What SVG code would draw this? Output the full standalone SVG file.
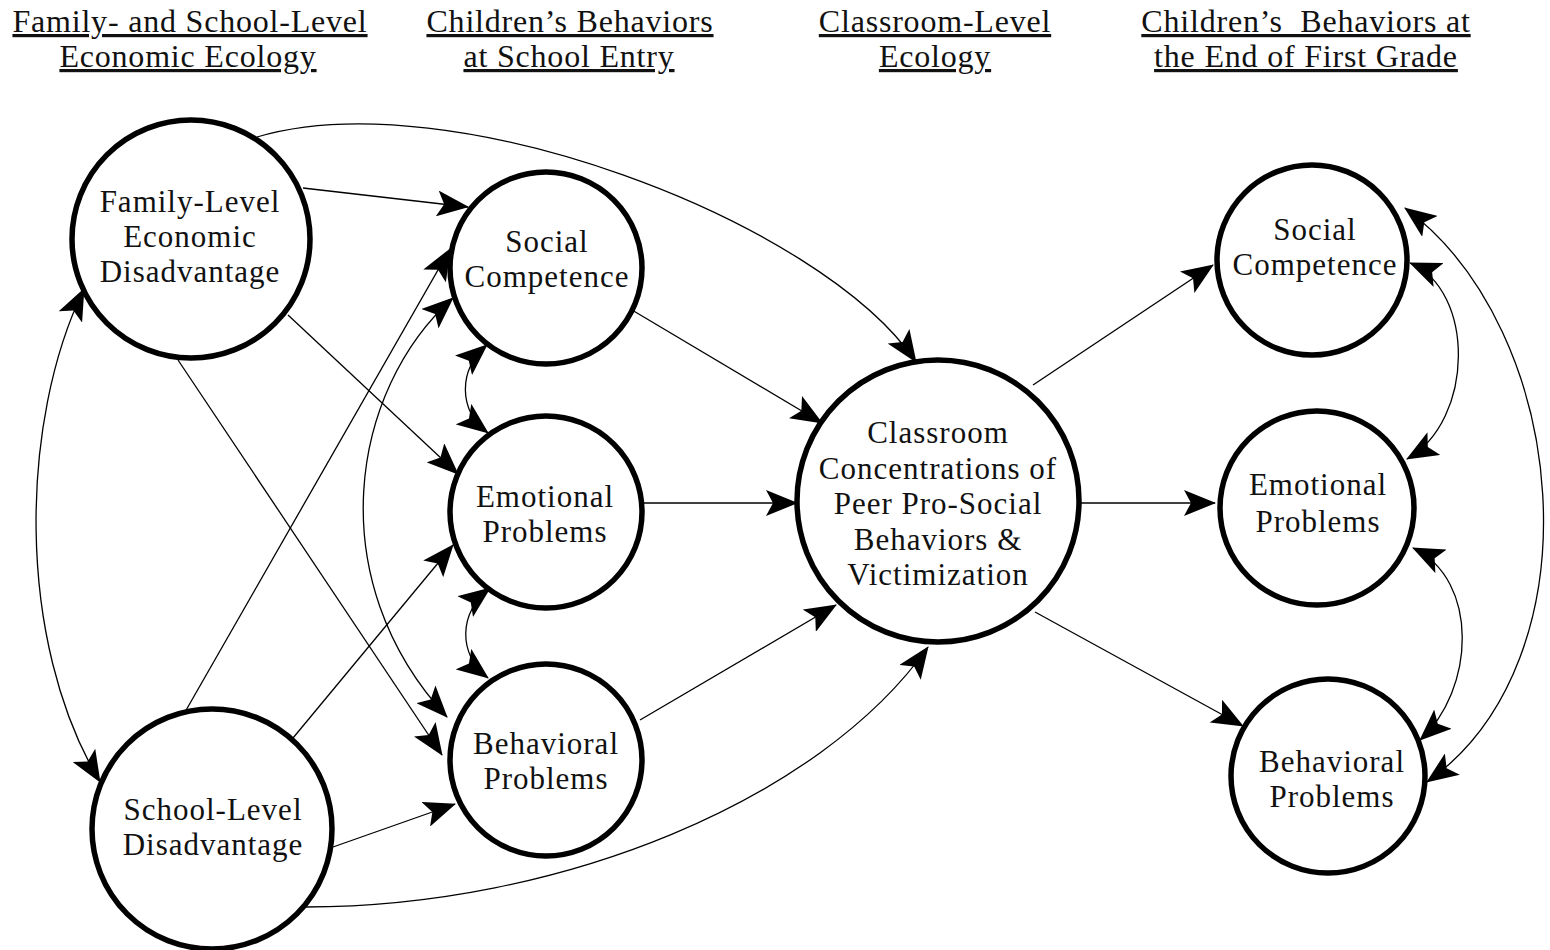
<svg xmlns="http://www.w3.org/2000/svg" width="1550" height="950" viewBox="0 0 1550 950">
  <defs>
    <marker id="arrow" viewBox="0 0 32 26" refX="31" refY="13" markerWidth="32" markerHeight="26" markerUnits="userSpaceOnUse" orient="auto-start-reverse">
      <path d="M32,13 L0,0 L7,13 L0,26 Z" fill="#000"/>
    </marker>
    <style>
      .hdr { font-family: "Liberation Serif", "Times New Roman", serif; font-size: 32px; letter-spacing: 0.8px; text-anchor: middle; text-decoration: underline; fill: #111; }
      .lbl { font-family: "Liberation Serif", "Times New Roman", serif; font-size: 31px; letter-spacing: 1px; text-anchor: middle; fill: #111; }
      .node { fill: #fff; stroke: #000; stroke-width: 5.5; }
      .edge { fill: none; stroke: #000; stroke-width: 1.3; marker-end: url(#arrow); }
      .both { marker-start: url(#arrow); }
    </style>
  </defs>
  <rect width="1550" height="950" fill="#fff"/>

  <!-- column headings -->
  <g id="headings">
    <text class="hdr" x="190" y="32">Family- and School-Level</text>
    <text class="hdr" x="188" y="67">Economic Ecology</text>
    <text class="hdr" x="570" y="32">Children’s Behaviors</text>
    <text class="hdr" x="569" y="67">at School Entry</text>
    <text class="hdr" x="935" y="32">Classroom-Level</text>
    <text class="hdr" x="935" y="67">Ecology</text>
    <text class="hdr" x="1306" y="32" xml:space="preserve">Children’s  Behaviors at</text>
    <text class="hdr" x="1306" y="67">the End of First Grade</text>
  </g>

  <!-- paths between constructs -->
  <g id="connectors">
    <!-- family-level disadvantage -->
    <path class="edge" d="M303,188 L468,207"/>
    <path class="edge" d="M288,315 L458,474"/>
    <path class="edge" d="M178,360 L442,755"/>
    <path class="edge" d="M257,137 C450,80 820,220 916,362"/>
    <!-- school-level disadvantage -->
    <path class="edge" d="M185,712 L450,249"/>
    <path class="edge" d="M293,738 L453,545"/>
    <path class="edge" d="M333,847 L455,804"/>
    <path class="edge" d="M305,907 C560,907 820,800 928,647"/>
    <!-- family / school covariance -->
    <path class="edge both" d="M84,289 C20,420 15,640 100,782"/>
    <!-- covariances among entry behaviors -->
    <path class="edge both" d="M487,345 C458,370 458,410 488,433"/>
    <path class="edge both" d="M490,588 C458,612 458,655 488,678"/>
    <path class="edge both" d="M453,298 C350,390 320,580 447,717"/>
    <!-- entry behaviors to classroom ecology -->
    <path class="edge" d="M632,310 L822,423"/>
    <path class="edge" d="M643,503 L797,503"/>
    <path class="edge" d="M640,720 L836,605"/>
    <!-- classroom ecology to first-grade outcomes -->
    <path class="edge" d="M1033,385 L1213,265"/>
    <path class="edge" d="M1080,503 L1215,503"/>
    <path class="edge" d="M1035,612 L1243,726"/>
    <!-- covariances among first-grade outcomes -->
    <path class="edge both" d="M1410,263 C1475,290 1475,420 1407,459"/>
    <path class="edge both" d="M1413,548 C1480,580 1475,690 1420,740"/>
    <path class="edge both" d="M1405,208 C1570,330 1600,660 1427,782"/>
  </g>

  <g id="family-disadvantage">
    <circle class="node" cx="191" cy="239" r="119"/>
    <text class="lbl" x="190" y="212">Family-Level</text>
    <text class="lbl" x="190" y="247">Economic</text>
    <text class="lbl" x="190" y="282">Disadvantage</text>
  </g>

  <g id="school-disadvantage">
    <circle class="node" cx="212" cy="829" r="120"/>
    <text class="lbl" x="213" y="820">School-Level</text>
    <text class="lbl" x="213" y="855">Disadvantage</text>
  </g>

  <g id="entry-social">
    <circle class="node" cx="546" cy="268" r="96"/>
    <text class="lbl" x="547" y="252">Social</text>
    <text class="lbl" x="547" y="287">Competence</text>
  </g>

  <g id="entry-emotional">
    <circle class="node" cx="546" cy="512" r="96"/>
    <text class="lbl" x="545" y="507">Emotional</text>
    <text class="lbl" x="545" y="542">Problems</text>
  </g>

  <g id="entry-behavioral">
    <circle class="node" cx="546" cy="760" r="96"/>
    <text class="lbl" x="546" y="754">Behavioral</text>
    <text class="lbl" x="546" y="789">Problems</text>
  </g>

  <g id="classroom">
    <circle class="node" cx="938" cy="501" r="141"/>
    <text class="lbl" x="938" y="443">Classroom</text>
    <text class="lbl" x="938" y="478.5">Concentrations of</text>
    <text class="lbl" x="938" y="514">Peer Pro-Social</text>
    <text class="lbl" x="938" y="549.5">Behaviors &amp;</text>
    <text class="lbl" x="938" y="585">Victimization</text>
  </g>

  <g id="grade1-social">
    <circle class="node" cx="1312" cy="260" r="95"/>
    <text class="lbl" x="1315" y="240">Social</text>
    <text class="lbl" x="1315" y="275">Competence</text>
  </g>

  <g id="grade1-emotional">
    <circle class="node" cx="1317" cy="508" r="97"/>
    <text class="lbl" x="1318" y="495">Emotional</text>
    <text class="lbl" x="1318" y="532">Problems</text>
  </g>

  <g id="grade1-behavioral">
    <circle class="node" cx="1328" cy="776" r="97"/>
    <text class="lbl" x="1332" y="772">Behavioral</text>
    <text class="lbl" x="1332" y="807">Problems</text>
  </g>
</svg>
